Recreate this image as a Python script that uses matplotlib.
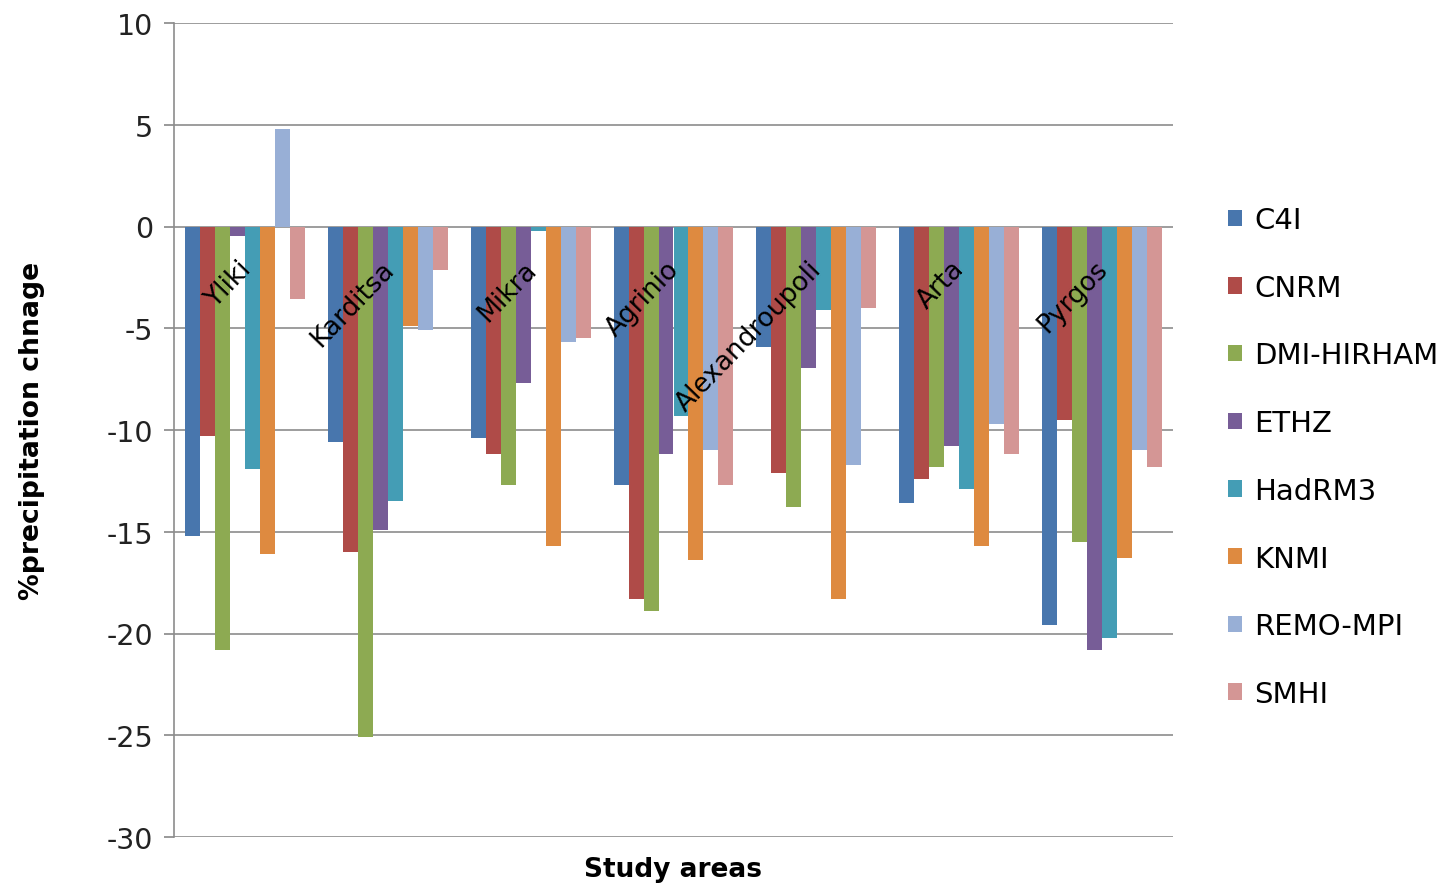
import numpy as np
import matplotlib.pyplot as plt
from matplotlib.patches import Patch

plt.rcParams['axes.unicode_minus'] = False

# study areas and regional climate models
areas = ['Yliki', 'Karditsa', 'Mikra', 'Agrinio', 'Alexandroupoli', 'Arta', 'Pyrgos']
models = ['C4I', 'CNRM', 'DMI-HIRHAM', 'ETHZ', 'HadRM3', 'KNMI', 'REMO-MPI', 'SMHI']

# % precipitation change per model (one value per study area)
c4i = [-15.2, -10.6, -10.4, -12.7, -5.9, -13.6, -19.6]
cnrm = [-10.3, -16.0, -11.2, -18.3, -12.1, -12.4, -9.5]
dmi = [-20.8, -25.1, -12.7, -18.9, -13.8, -11.8, -15.5]
ethz = [-0.45, -14.9, -7.7, -11.2, -6.95, -10.8, -20.8]
hadrm3 = [-11.9, -13.5, -0.2, -9.3, -4.1, -12.9, -20.2]
knmi = [-16.1, -4.9, -15.7, -16.4, -18.3, -15.7, -16.3]
remo = [4.8, -5.1, -5.7, -11.0, -11.7, -9.7, -11.0]
smhi = [-3.55, -2.15, -5.5, -12.7, -4.0, -11.2, -11.8]

series = [c4i, cnrm, dmi, ethz, hadrm3, knmi, remo, smhi]
colors = ['#4876AD', '#AF4B48', '#8DAA52', '#775D97', '#449DB5', '#DE8A40', '#98AFD6', '#D49695']

fig = plt.figure(figsize=(14.47, 8.87), dpi=100)
ax = fig.add_axes([174 / 1447, 1 - 838 / 887, (1173 - 174) / 1447, (838 - 24) / 887])

x = np.arange(len(areas))
w = 0.105
for i, vals in enumerate(series):
    ax.bar(x + (i - 3.5) * w, vals, width=w, color=colors[i], zorder=3)

ax.set_xlim(-0.5, len(areas) - 0.5)
ax.set_ylim(-30, 10)
ax.set_yticks(np.arange(-30, 11, 5))
ax.set_xticks([])
ax.tick_params(axis='y', labelsize=20.5, length=7, width=1.2, color='#888888', pad=8, labelcolor='#222222')

# horizontal gridlines, gray left axis only
ax.grid(axis='y', color='#8c8c8c', linewidth=1.2, zorder=0)
for s in ['top', 'right', 'bottom']:
    ax.spines[s].set_visible(False)
ax.spines['left'].set_color('#8c8c8c')
ax.spines['left'].set_linewidth(1.2)

# category labels sit just under the zero line, rotated
for i, name in enumerate(areas):
    ax.annotate(name, xy=(i, 0), xytext=(8, -21), textcoords='offset points',
                ha='right', va='top', rotation=46, fontsize=19, zorder=5)

ax.set_ylabel('%precipitation chnage', fontsize=19.2, fontweight='bold')
ax.yaxis.set_label_coords(-0.129, 0.5)
ax.set_xlabel('Study areas', fontsize=19, fontweight='bold', labelpad=14)

handles = [Patch(facecolor=c) for c in colors]
fig.legend(handles, models, loc='center left', bbox_to_anchor=(1202 / 1447, 1 - 458 / 887),
           frameon=False, fontsize=21, handlelength=0.48, handleheight=0.48,
           handletextpad=0.42, labelspacing=1.36)

fig.savefig('out.png', dpi=100)
